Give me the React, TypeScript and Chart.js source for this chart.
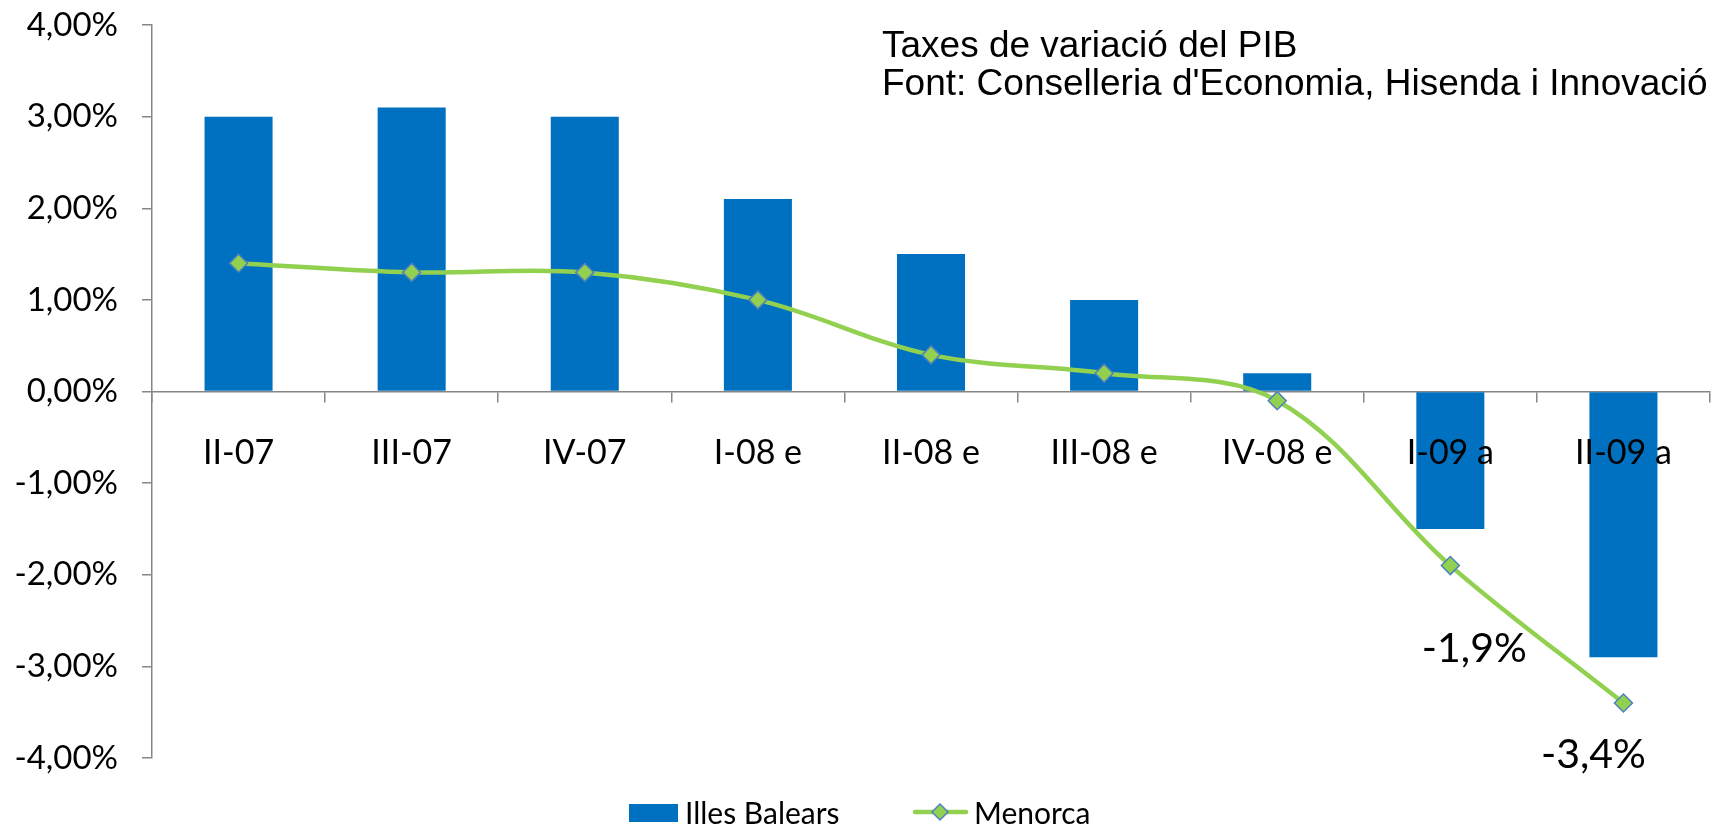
import React, { useEffect, useRef } from 'react';
import { Chart, registerables } from 'chart.js';

Chart.register(...registerables);

const categories = ['II-07', 'III-07', 'IV-07', 'I-08 e', 'II-08 e', 'III-08 e', 'IV-08 e', 'I-09 a', 'II-09 a'];
const illesBalears = [3.0, 3.1, 3.0, 2.1, 1.5, 1.0, 0.2, -1.5, -2.9];
const menorca = [1.4, 1.3, 1.3, 1.0, 0.4, 0.2, -0.1, -1.9, -3.4];
const seriesNames = ['Illes Balears', 'Menorca'];
const yMin = -4;
const yMax = 4;
const yStep = 1;
const titleLines = ['Taxes de variació del PIB', "Font: Conselleria d'Economia, Hisenda i Innovació"];
const labelledPoints = [7, 8];

const BLUE = '#0070C0';
const GREEN = '#92D050';
const MARKER_BORDER = '#4F81BD';
const AXIS = '#868686';
const LABEL_FONT = 'Lato';

const fmtAxis = (v: number) => v.toFixed(2).replace('.', ',') + '%';
const fmtPoint = (v: number) => v.toFixed(1).replace('.', ',') + '%';

const drawDiamond = (ctx: CanvasRenderingContext2D, x: number, y: number, r: number) => {
  ctx.beginPath();
  ctx.moveTo(x, y - r);
  ctx.lineTo(x + r, y);
  ctx.lineTo(x, y + r);
  ctx.lineTo(x - r, y);
  ctx.closePath();
  ctx.fillStyle = GREEN;
  ctx.fill();
  ctx.lineWidth = 1.5;
  ctx.strokeStyle = MARKER_BORDER;
  ctx.stroke();
};

const decorPlugin = {
  id: 'decor',
  afterDraw(chart: any) {
    const ctx: CanvasRenderingContext2D = chart.ctx;
    ctx.save();
    // point labels
    const meta = chart.getDatasetMeta(1);
    const offsets: Record<number, [number, number]> = { 7: [24, 83], 8: [-30, 52] };
    ctx.font = `41px ${LABEL_FONT}`;
    ctx.fillStyle = '#000';
    ctx.textAlign = 'center';
    ctx.textBaseline = 'middle';
    labelledPoints.forEach((i) => {
      const el = meta.data[i];
      const off = offsets[i] || [0, 40];
      ctx.fillText(fmtPoint(menorca[i]), el.x + off[0], el.y + off[1]);
    });
    // title
    ctx.font = '37px "Liberation Sans"';
    ctx.textAlign = 'left';
    ctx.textBaseline = 'alphabetic';
    ctx.fillText(titleLines[0], 882, 57);
    ctx.fillText(titleLines[1], 882, 95);
    // legend
    ctx.fillStyle = BLUE;
    ctx.fillRect(629, 804, 49, 18);
    ctx.font = `30px ${LABEL_FONT}`;
    ctx.fillStyle = '#000';
    ctx.textBaseline = 'middle';
    ctx.fillText(seriesNames[0], 685, 814);
    ctx.strokeStyle = GREEN;
    ctx.lineWidth = 4.5;
    ctx.lineCap = 'round';
    ctx.beginPath();
    ctx.moveTo(915, 812);
    ctx.lineTo(966, 812);
    ctx.stroke();
    drawDiamond(ctx, 940, 812, 8);
    ctx.fillStyle = '#000';
    ctx.fillText(seriesNames[1], 974, 814);
    ctx.restore();
  },
};

export default function App() {
  const ref = useRef<HTMLCanvasElement>(null);
  useEffect(() => {
    document.body.style.margin = '0';
    document.body.style.overflow = 'hidden';
    const canvas = ref.current!;
    const chart = new Chart(canvas, {
      type: 'bar',
      data: {
        labels: categories,
        datasets: [
          {
            type: 'bar',
            label: seriesNames[0],
            data: illesBalears,
            backgroundColor: BLUE,
            borderWidth: 0,
            barPercentage: 0.393,
            categoryPercentage: 1,
            order: 1,
          },
          {
            type: 'line',
            label: seriesNames[1],
            data: menorca,
            borderColor: GREEN,
            borderWidth: 4.5,
            backgroundColor: GREEN,
            pointStyle: 'rectRot',
            pointRadius: 9,
            pointBackgroundColor: GREEN,
            pointBorderColor: MARKER_BORDER,
            pointBorderWidth: 1.5,
            tension: 0.35,
            fill: false,
            order: 0,
          } as any,
        ],
      },
      options: {
        animation: false,
        responsive: false,
        devicePixelRatio: 1,
        layout: { padding: { left: 0, right: 15, top: 25, bottom: 69 } },
        plugins: {
          legend: { display: false },
          tooltip: { enabled: false },
        },
        scales: {
          x: {
            position: { y: 0 } as any,
            offset: true,
            grid: {
              display: true,
              drawOnChartArea: false,
              drawTicks: true,
              tickLength: 10,
              color: AXIS,
              lineWidth: 1.5,
              offset: true,
            },
            border: { display: true, color: AXIS, width: 1.5 },
            ticks: {
              z: 1,
              color: '#000',
              font: { family: LABEL_FONT, size: 34 },
              padding: 31,
              maxRotation: 0,
              autoSkip: false,
            },
            afterFit: (s: any) => {
              s.height = 0;
              s.paddingTop = 0;
              s.paddingBottom = 0;
              s.paddingLeft = 0;
              s.paddingRight = 0;
            },
          },
          y: {
            min: yMin,
            max: yMax,
            grid: {
              display: true,
              drawOnChartArea: false,
              drawTicks: true,
              tickLength: 10,
              color: AXIS,
              lineWidth: 1.5,
            },
            border: { display: true, color: AXIS, width: 1.5 },
            ticks: {
              stepSize: yStep,
              color: '#000',
              font: { family: LABEL_FONT, size: 33 },
              padding: 24,
              callback: (v: any) => fmtAxis(Number(v)),
            },
            afterFit: (s: any) => {
              s.width = 152;
              s.paddingTop = 0;
              s.paddingBottom = 0;
            },
          },
        },
      },
      plugins: [decorPlugin],
    });
    return () => chart.destroy();
  }, []);
  return (
    <div style={{ width: 1725, height: 827, background: '#fff' }}>
      <canvas ref={ref} width={1725} height={827} style={{ display: 'block' }} />
    </div>
  );
}
